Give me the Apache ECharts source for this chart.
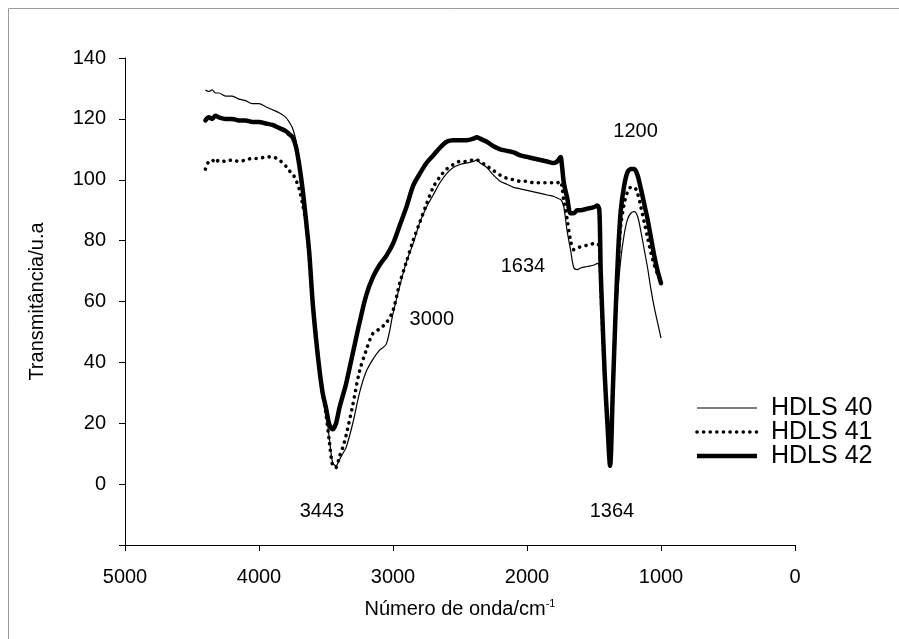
<!DOCTYPE html>
<html>
<head>
<meta charset="utf-8">
<script src="https://cdn.jsdelivr.net/npm/echarts@6/dist/echarts.min.js"></script>
<style>
html,body{margin:0;padding:0;background:#fff;}
#chart{width:899px;height:639px;}
</style>
</head>
<body>
<div id="chart"></div>
<script>
// ---- data ----
const waveNumber = [
  4400, 4375, 4350, 4325, 4300, 4250, 4200, 4150, 4100, 4050,
  4000, 3950, 3900, 3850, 3800, 3775, 3750, 3725, 3700, 3675,
  3650, 3625, 3600, 3575, 3550, 3525, 3500, 3475, 3450, 3425,
  3400, 3375, 3350, 3300, 3250, 3200, 3150, 3100, 3050, 3000,
  2950, 2900, 2850, 2800, 2750, 2700, 2650, 2600, 2550, 2500,
  2450, 2400, 2375, 2350, 2300, 2250, 2200, 2150, 2100, 2050,
  2000, 1950, 1900, 1850, 1800, 1775, 1750, 1740, 1725, 1700,
  1675, 1650, 1625, 1600, 1550, 1500, 1475, 1460, 1450, 1440,
  1420, 1400, 1380, 1360, 1340, 1320, 1300, 1275, 1250, 1225,
  1200, 1175, 1150, 1125, 1100, 1075, 1050, 1025, 1000
];
const hdls40 = [
  129.5, 129, 129.5, 128.5, 128.5, 127.5, 127.5, 126.5, 126, 125,
  125, 124, 123, 122, 120.5, 119, 117, 113, 106, 98,
  87, 76, 60, 49, 38, 30, 24, 15, 7, 6,
  8, 10, 12, 20, 30, 37, 41, 44, 46, 56,
  65, 73, 79, 86, 91, 95, 99, 102, 104, 105,
  105.5, 106, 106.5, 105.5, 104, 101.5, 99.5, 98.5, 97.5, 97,
  96.5, 96, 95.5, 95, 94.5, 94, 93.5, 93, 91, 83,
  77, 71, 70.5, 71, 71.5, 72, 72.5, 71, 62, 52,
  35, 20, 6, 30, 50, 64, 74, 82, 87, 89,
  89.5, 88, 83, 77, 71, 64, 58, 53, 48
];
const hdls41 = [
  103.5, 106, 106.5, 105.5, 106.5, 106, 106.5, 106, 106.5, 107,
  107, 107.5, 107.5, 106.5, 104.5, 103, 102, 100, 97, 92,
  86, 75, 60, 49, 38, 30, 23, 14, 6, 5.5,
  9, 12, 16, 26, 37, 44, 49.5, 51, 53, 57,
  66, 73, 80, 86, 92, 97.5, 101, 103.5, 105, 106,
  106, 106.5, 106.5, 106, 104.5, 103, 101.5, 100.5, 100, 99.5,
  99.5, 99, 99, 99, 99, 99, 99.5, 98, 93, 87,
  80, 77, 77.5, 78, 78.5, 79, 79, 78, 66, 54,
  35, 20, 6, 30, 54, 72, 85, 92, 96, 97.5,
  97.5, 95.5, 91, 86, 81, 76, 72, 69, 67
];
const hdls42 = [
  119.5, 120.5, 120, 121, 120.5, 120, 120, 119.5, 119.5, 119,
  119, 118.5, 118, 117, 116, 115, 114, 111, 105, 97,
  87, 76, 60, 48, 38, 30, 25, 19.5, 18, 20,
  25, 29, 33, 43, 53, 62, 68, 72, 75, 79,
  85, 91, 98, 102, 105.5, 108, 110.5, 112.5, 113, 113,
  113, 113.5, 114, 113.5, 112.5, 111, 110, 109.5, 109, 108,
  107.5, 107, 106.5, 106, 105.5, 106, 107.5, 105, 99, 94,
  89, 89, 90, 90, 90.5, 91, 91.5, 90, 70, 58,
  36, 20, 6, 30, 55, 76, 90, 98, 102.5, 103.5,
  103.5, 101.5, 97, 92, 87, 81, 75, 70, 66
];
const seriesNames = ['HDLS 40', 'HDLS 41', 'HDLS 42'];
const annoText = ['3443', '3000', '1634', '1200', '1364'];
const annoX = [3530, 2710, 2030, 1190, 1366];
const annoY = [-9, 54, 71.5, 116, -9];
const xTicks = { min: 0, max: 5000, step: 1000 };
const yTicks = { min: -20, max: 140, step: 20 };

// ---- styles ----
const FONT = "'Liberation Sans', Arial, sans-serif";
const lineStyles = [
  { stroke: '#000', lineWidth: 1.2 },
  { stroke: '#000', lineWidth: 3.6, lineDash: [0.1, 6.5], lineCap: 'round' },
  { stroke: '#000', lineWidth: 4.5, lineCap: 'butt' }
];

const chart = echarts.init(document.getElementById('chart'), null, { renderer: 'canvas' });
function pairs(vals) { return waveNumber.map((x, i) => [x, vals[i]]); }

// legend drawn as graphic (lines + text)
const legendGraphic = [];
seriesNames.forEach((n, i) => {
  const y = 408 + i * 24;
  legendGraphic.push({
    type: 'line', silent: true,
    shape: { x1: 697, y1: y, x2: 757, y2: y },
    style: Object.assign({}, lineStyles[i])
  });
  legendGraphic.push({
    type: 'text', silent: true, x: 771, y: y,
    style: { text: n, fontFamily: FONT, fontSize: 25, fill: '#000', verticalAlign: 'middle', align: 'left' }
  });
});

const option = {
  backgroundColor: '#ffffff',
  animation: false,
  textStyle: { fontFamily: FONT },
  graphic: [{
    type: 'rect', silent: true, z: -10,
    shape: { x: 8.5, y: 8.5, width: 1000, height: 1000 },
    style: { fill: 'none', stroke: '#9a9a9a', lineWidth: 1 }
  }].concat(legendGraphic),
  grid: { left: 125, right: 104, top: 58, bottom: 94, containLabel: false, outerBoundsMode: 'none' },
  xAxis: {
    type: 'value', inverse: true,
    min: xTicks.min, max: xTicks.max, interval: xTicks.step,
    name: 'Número de onda/cm{sup|-1}',
    nameLocation: 'middle', nameGap: 53,
    nameTextStyle: { fontFamily: FONT, fontSize: 20, color: '#000',
      rich: { sup: { fontFamily: FONT, fontSize: 11, color: '#000', padding: [0, 0, 12, 0] } } },
    axisLine: { show: true, onZero: false, lineStyle: { color: '#000', width: 1 } },
    axisTick: { show: true, inside: false, length: 6, lineStyle: { color: '#000' } },
    axisLabel: { fontFamily: FONT, fontSize: 20, color: '#000', margin: 22,
      formatter: v => String(v) },
    splitLine: { show: false }
  },
  yAxis: {
    type: 'value',
    min: yTicks.min, max: yTicks.max, interval: yTicks.step,
    name: 'Transmitância/u.a',
    nameLocation: 'middle', nameGap: 78,
    nameTextStyle: { fontFamily: FONT, fontSize: 20, color: '#000' },
    axisLine: { show: true, onZero: false, lineStyle: { color: '#000', width: 1 } },
    axisTick: { show: true, inside: false, length: 6, lineStyle: { color: '#000' } },
    axisLabel: { fontFamily: FONT, fontSize: 20, color: '#000', margin: 19,
      formatter: v => (v === yTicks.min ? '' : String(v)) },
    splitLine: { show: false }
  },
  series: [
    { name: seriesNames[0], type: 'line', data: pairs(hdls40), symbol: 'none', smooth: 0.3,
      color: '#000', lineStyle: { color: '#000', width: 1.2 } },
    { name: seriesNames[1], type: 'line', data: pairs(hdls41), symbol: 'none', smooth: 0.3,
      color: '#000', lineStyle: { color: '#000', width: 3.6, type: [0.1, 6.5], cap: 'round' } },
    { name: seriesNames[2], type: 'line', data: pairs(hdls42), symbol: 'none', smooth: 0.3,
      color: '#000', lineStyle: { color: '#000', width: 4.5, cap: 'round', join: 'round' } },
    { name: 'annotations', type: 'scatter', silent: true, symbolSize: 1,
      itemStyle: { color: 'rgba(0,0,0,0)' },
      data: annoText.map((t, i) => ({ name: t, value: [annoX[i], annoY[i]] })),
      label: { show: true, position: 'inside', formatter: p => p.name,
        fontFamily: FONT, fontSize: 20, color: '#000', textBorderWidth: 0, opacity: 1 } }
  ]
};
chart.setOption(option);
</script>
</body>
</html>
